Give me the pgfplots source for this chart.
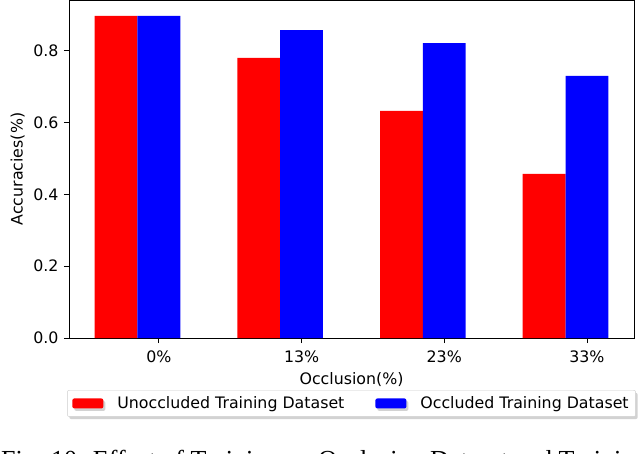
\documentclass[border=0pt]{standalone}
\usepackage{fontspec}
\setmainfont{DejaVu Sans}
\newfontfamily\capfont{Liberation Serif}
\usepackage{pgfplots}
\pgfplotsset{compat=1.18}
\usetikzlibrary{shadows}

\begin{document}
\fontsize{15.8}{18}\selectfont
\begin{tikzpicture}
\begin{axis}[scale only axis, width=565pt, height=338pt,
  xmin=-0.63, xmax=3.33, ymin=0, ymax=0.941,
  xtick={0,1,2,3}, xticklabels={0\%,13\%,23\%,33\%},
  ytick={0,0.2,0.4,0.6,0.8},
  yticklabel style={/pgf/number format/.cd, fixed, fixed zerofill, precision=1},
  xticklabel style={yshift=-2pt},
  /pgf/number format/assume math mode=true,
  tick align=outside, xtick pos=bottom, ytick pos=left, major tick length=5pt,
  tick style={black, line width=0.8pt},
  axis line style={line width=0.8pt},
  xlabel={Occlusion(\%)}, ylabel={Accuracies(\%)},
  xlabel style={yshift=1pt}, ylabel style={yshift=-2pt},
  legend columns=2,
  legend style={at={(0.5,-0.154)}, anchor=north, draw=gray!40, rounded corners=2pt,
    drop shadow={shadow xshift=2pt, shadow yshift=-2.5pt, fill=gray!70},
    inner xsep=5pt, inner ysep=4pt,
    /tikz/every odd column/.append style={column sep=12pt},
    /tikz/every even column/.append style={column sep=29pt}},
  legend image code/.code={\fill[#1] (0pt,-5pt) rectangle (31pt,5pt);},
]
\addplot[ybar, bar width=0.3, bar shift=0pt, fill=red, draw=none]
  coordinates {(-0.3,0.897) (0.7,0.780) (1.7,0.632) (2.7,0.457)};
\addplot[ybar, bar width=0.3, bar shift=0pt, fill=blue, draw=none]
  coordinates {(0,0.897) (1,0.857) (2,0.821) (3,0.730)};
\legend{Unoccluded Training Dataset, Occluded Training Dataset}
\coordinate (O) at (rel axis cs:0,0);
\end{axis}
\node[anchor=north west, inner sep=0pt, font=\capfont\fontsize{26}{30}\selectfont]
  at ([xshift=-68pt, yshift=-112pt]O)
  {Fig. 10: Effect of Training on Occlusion Dataset and Training on Unoccluded Dataset};
\pgfresetboundingbox
\path[use as bounding box] ([xshift=-69pt,yshift=-115pt]O) rectangle ([xshift=571pt,yshift=338pt]O);
\end{tikzpicture}
\end{document}
